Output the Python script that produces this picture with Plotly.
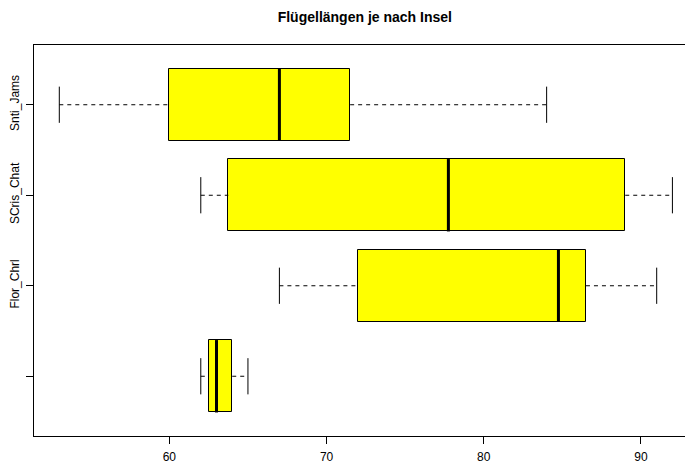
import plotly.graph_objects as go

# Data
islands = ["", "Flor_Chrl", "SCris_Chat", "Snti_Jams"]
lower_whisker = [62.0, 67.0, 62.0, 53.0]
q1 = [62.5, 72.0, 63.75, 60.0]
median = [63.0, 84.75, 77.75, 67.0]
q3 = [64.0, 86.5, 89.0, 71.5]
upper_whisker = [65.0, 91.0, 92.0, 84.0]
x_ticks = [60, 70, 80, 90]

positions = list(range(1, len(islands) + 1))
box_w = 0.8
staple_w = 0.4

fig = go.Figure()

# whiskers (dashed)
wx, wy = [], []
for p, lo, a, b, hi in zip(positions, lower_whisker, q1, q3, upper_whisker):
    wx += [lo, a, None, b, hi, None]
    wy += [p, p, None, p, p, None]
fig.add_trace(go.Scatter(x=wx, y=wy, mode="lines",
                         line=dict(color="black", width=1, dash="4px,4px"),
                         hoverinfo="skip", showlegend=False))

# staples
sx, sy = [], []
for p, lo, hi in zip(positions, lower_whisker, upper_whisker):
    for v in (lo, hi):
        sx += [v, v, None]
        sy += [p - staple_w / 2, p + staple_w / 2, None]
fig.add_trace(go.Scatter(x=sx, y=sy, mode="lines",
                         line=dict(color="black", width=1),
                         hoverinfo="skip", showlegend=False))

# boxes
fig.add_trace(go.Bar(
    y=positions, x=[b - a for a, b in zip(q1, q3)], base=q1,
    orientation="h", width=box_w,
    marker=dict(color="#FFFF00", line=dict(color="black", width=1)),
    hoverinfo="skip", showlegend=False))

# medians
mx, my = [], []
for p, m in zip(positions, median):
    mx += [m, m, None]
    my += [p - box_w / 2, p + box_w / 2, None]
fig.add_trace(go.Scatter(x=mx, y=my, mode="lines",
                         line=dict(color="black", width=3),
                         hoverinfo="skip", showlegend=False))

# the page body has an 8px default margin, so the figure is sized to fit
fig.update_layout(
    width=685, height=458,
    margin=dict(l=26, r=0, t=37, b=30, autoexpand=False),
    plot_bgcolor="white", paper_bgcolor="white",
    font=dict(family="Liberation Sans, Arial, sans-serif", size=12, color="black"),
    title=dict(text="<b>Flügellängen je nach Insel</b>",
               font=dict(size=14, color="black"),
               x=0.502, xref="paper", xanchor="center",
               y=1 - 9 / 458, yref="container", yanchor="middle"),
    bargap=0,
)
fig.update_xaxes(range=[51.39, 93.31], tickvals=x_ticks, automargin=False,
                 showgrid=False, zeroline=False,
                 showline=True, linecolor="black", linewidth=1, mirror=True,
                 ticks="outside", ticklen=7, tickcolor="black",
                 tickfont=dict(size=12),
                 ticklabelstandoff=3)
fig.update_yaxes(range=[0.34, 4.66], tickvals=positions, ticktext=islands,
                 tickangle=-90, automargin=False,
                 showgrid=False, zeroline=False,
                 showline=True, linecolor="black", linewidth=1, mirror=False,
                 ticks="outside", ticklen=7, tickcolor="black",
                 tickfont=dict(size=12),
                 ticklabelstandoff=2)

fig.write_html("out.html")
